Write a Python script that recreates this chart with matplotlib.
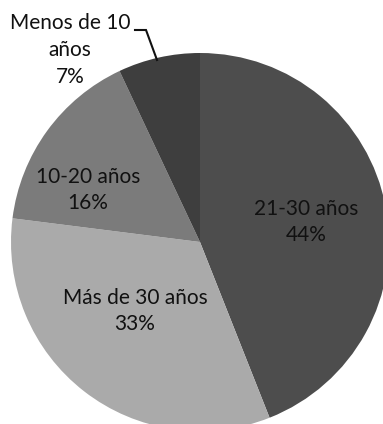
import matplotlib
matplotlib.use("Agg")
import matplotlib.pyplot as plt

categories = ["21-30 años", "Más de 30 años", "10-20 años", "Menos de 10 años"]
values = [44, 33, 16, 7]
colors = ["#4d4d4d", "#aaaaaa", "#7b7b7b", "#3e3e3e"]

W, H = 383, 424
fig = plt.figure(figsize=(W / 100, H / 100), dpi=100)
cx, cy, R = 200, 242, 189
ax = fig.add_axes([(cx - R) / W, (H - cy - R) / H, 2 * R / W, 2 * R / H])

wedges, _ = ax.pie(values, colors=colors, startangle=90, counterclock=False,
                   radius=1, center=(0, 0), wedgeprops=dict(linewidth=0))
for w in wedges:
    w.set_clip_on(False)
ax.set_xlim(-1, 1)
ax.set_ylim(-1, 1)
ax.set_aspect("equal")
ax.axis("off")

def px(x, y):
    return ((x - cx) / R, (cy - y) / R)

font = dict(family="Lato", fontsize=15, color="#111111", ha="center", va="center")
label_px = [(306, 222), (135, 311), (88, 190)]
for cat, v, (x, y) in zip(categories[:3], values[:3], label_px):
    ax.text(*px(x, y), f"{cat}\n{v}%", linespacing=1.42, **font)

ax.text(*px(70, 50), "Menos de 10\naños\n" + f"{values[3]}%", linespacing=1.42, **font)
xs, ys = zip(*[px(135, 30), px(146, 30), px(157, 60)])
ax.plot(xs, ys, color="#111111", lw=1.5, clip_on=False, solid_joinstyle="miter")

fig.savefig("out.png", dpi=100)
